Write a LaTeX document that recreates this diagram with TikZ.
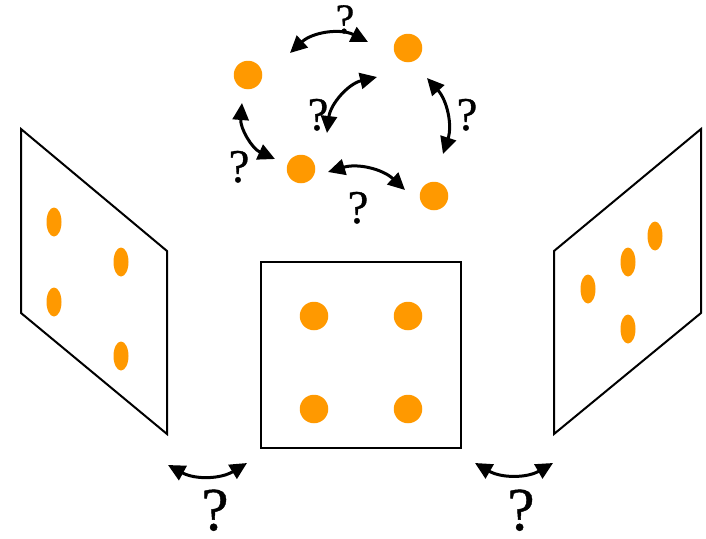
\documentclass[tikz,border=0pt]{standalone}
\usepackage{fontspec}
\setmainfont{Liberation Serif}
\newfontfamily\qfont{Liberation Serif}[FakeBold=0.7]
\usetikzlibrary{arrows.meta}
\definecolor{dotorange}{RGB}{255,153,0}
\begin{document}
\begin{tikzpicture}[x=1pt,y=-1pt,
  panel/.style={draw=black,line width=2pt,line join=miter},
  bigdot/.style={circle,fill=dotorange,inner sep=0pt,minimum size=28.5pt},
  link/.style={line width=3pt,{Triangle[length=17pt,width=16pt]}-{Triangle[length=17pt,width=16pt]}},
  qmark/.style={font=\qfont\fontsize{47}{47}\selectfont,inner sep=0pt,anchor=base},
  bigq/.style={font=\qfont\fontsize{61}{61}\selectfont,inner sep=0pt,anchor=base}]
\useasboundingbox (0,0) rectangle (706,538);
% left panel
\draw[panel] (21,129) -- (167,251) -- (167,434) -- (21,313) -- cycle;
\path[fill=dotorange] (54,222) ellipse (7.5 and 14.5)
  (121,262) ellipse (7.5 and 14.5)
  (54,302) ellipse (7.5 and 14.5)
  (121,356) ellipse (7.5 and 14.5);
% right panel
\draw[panel] (554,251) -- (701,129) -- (701,313) -- (554,434) -- cycle;
\path[fill=dotorange] (655,236) ellipse (7.5 and 14.5)
  (628,262) ellipse (7.5 and 14.5)
  (588,289) ellipse (7.5 and 14.5)
  (628,329) ellipse (7.5 and 14.5);
% center square
\draw[panel] (261,262) rectangle (461,448);
\node[bigdot] (c1) at (314,316) {};
\node[bigdot] (c2) at (408,316) {};
\node[bigdot] (c3) at (314,409) {};
\node[bigdot] (c4) at (408,409) {};
% top points
\node[bigdot] (p1) at (248,75) {};
\node[bigdot] (p2) at (408,48) {};
\node[bigdot] (p3) at (301,169) {};
\node[bigdot] (p4) at (434,196) {};
% arrow end coordinates
\coordinate (a1s) at (290,53);  \coordinate (a1e) at (368,42);
\coordinate (a2s) at (377,77);  \coordinate (a2e) at (327,133);
\coordinate (a3s) at (427,78);  \coordinate (a3e) at (443,154);
\coordinate (a4s) at (242,103); \coordinate (a4e) at (275,159);
\coordinate (a5s) at (328,172); \coordinate (a5e) at (405,190);
\coordinate (b1s) at (168,465); \coordinate (b1e) at (247,463);
\coordinate (b2s) at (475,463); \coordinate (b2e) at (553,463);
\draw[link] (a1s) to[bend left=35] (a1e);
\draw[link] (a2s) to[bend right=35] (a2e);
\draw[link] (a3s) to[bend left=30] (a3e);
\draw[link] (a4s) to[bend right=35] (a4e);
\draw[link] (a5s) to[bend left=30] (a5e);
\draw[link] (b1s) to[bend right=30] (b1e);
\draw[link] (b2s) to[bend right=30] (b2e);
% labels
\node[qmark,font=\qfont\fontsize{42}{42}\selectfont] (q1) at (345,33) {?};
\node[qmark] (q2) at (318,130) {?};
\node[qmark] (q3) at (467,130) {?};
\node[qmark] (q4) at (239,182) {?};
\node[qmark] (q5) at (358,223) {?};
\node[bigq] (q6) at (215,530) {?};
\node[bigq] (q7) at (521,530) {?};
\end{tikzpicture}
\end{document}
